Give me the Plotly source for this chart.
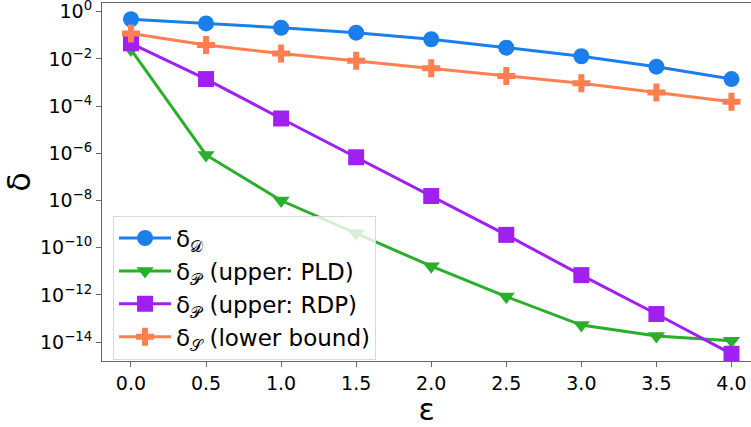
import plotly.graph_objects as go

eps = [0.0, 0.5, 1.0, 1.5, 2.0, 2.5, 3.0, 3.5, 4.0]
delta_D = [0.48, 0.32, 0.21, 0.13, 0.068, 0.030, 0.013, 0.0047, 0.0014]
delta_P_pld = [0.025, 8.5e-7, 1.0e-8, 4.1e-10, 1.66e-11, 8.5e-13, 5.3e-14, 1.8e-14, 1.15e-14]
delta_P_rdp = [0.046, 0.0014, 3.0e-5, 6.8e-7, 1.55e-8, 3.5e-10, 6.9e-12, 1.55e-13, 3.2e-15]
delta_S = [0.12, 0.039, 0.017, 0.0083, 0.0040, 0.0019, 0.00093, 0.00038, 0.000155]

names = ["δ<sub>𝒟</sub>", "δ<sub>𝒫</sub> (upper: PLD)", "δ<sub>𝒫</sub> (upper: RDP)", "δ<sub>𝒮</sub> (lower bound)"]
colors = ["#1a7fe8", "#2aaf2a", "#a020f0", "#ff7f50"]
symbols = ["circle", "triangle-down", "square", "cross"]
sizes = [16, 15, 16, 15]
series = [delta_D, delta_P_pld, delta_P_rdp, delta_S]

ytick_exp = [0, -2, -4, -6, -8, -10, -12, -14]
xtick_vals = [0.0, 0.5, 1.0, 1.5, 2.0, 2.5, 3.0, 3.5, 4.0]

fig = go.Figure()
for name, ys, c, s, sz in zip(names, series, colors, symbols, sizes):
    fig.add_trace(go.Scatter(
        x=eps, y=ys, name=name, mode="lines+markers",
        line=dict(color=c, width=3),
        marker=dict(symbol=s, size=sz, color=c, line=dict(width=0)),
    ))

fig.update_layout(
    width=751, height=427,
    margin=dict(l=102, r=0, t=3, b=66),
    plot_bgcolor="white", paper_bgcolor="white",
    font=dict(family="DejaVu Sans", size=19, color="black"),
    showlegend=True,
    legend=dict(
        x=0.017, y=0.004, xanchor="left", yanchor="bottom",
        bgcolor="rgba(255,255,255,0.8)", bordercolor="#d9d9d9", borderwidth=1,
        font=dict(size=23), itemwidth=52, tracegroupgap=0,
    ),
    xaxis=dict(
        range=[-0.193, 4.13], tickvals=xtick_vals,
        ticktext=[f"{v:.1f}" for v in xtick_vals],
        showline=True, linecolor="#666666", linewidth=1, mirror=True,
        ticks="outside", ticklen=5, tickcolor="#666666",
        showgrid=False, zeroline=False, automargin=False,
        ticklabeloverflow="allow",
        title=dict(text="ε", font=dict(size=30), standoff=4),
    ),
    yaxis=dict(
        type="log", range=[-14.8, 0.37],
        tickvals=[10.0 ** e for e in ytick_exp],
        ticktext=[f"10<sup>{'−' + str(-e) if e < 0 else '0'}</sup>" for e in ytick_exp],
        showline=True, linecolor="#666666", linewidth=1,
        ticks="outside", ticklen=5, tickcolor="#666666",
        showgrid=False, zeroline=False, automargin=False,
        ticklabeloverflow="allow",
        title=dict(text="δ", font=dict(size=32), standoff=12),
    ),
)

fig.write_html(
    "out.html",
    config={"displayModeBar": False},
    post_script="document.body.style.margin='0';document.body.style.padding='0';",
)
